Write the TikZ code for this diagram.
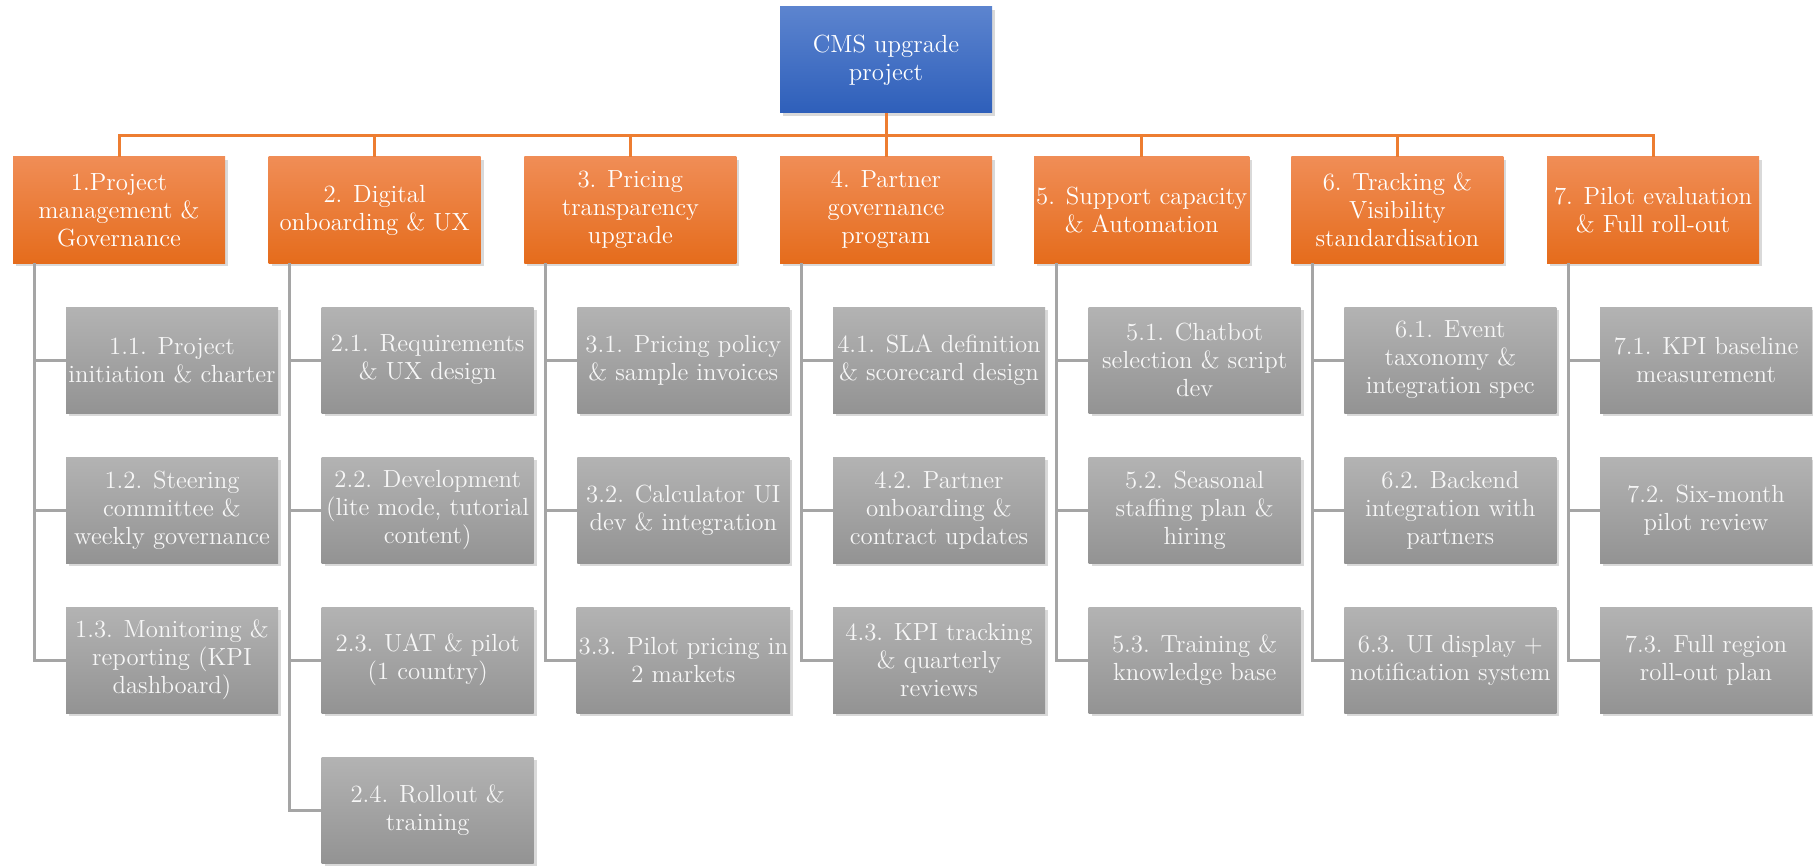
\documentclass[tikz,border=0pt]{standalone}
\usepackage{xcolor}
\usetikzlibrary{shadows}
\definecolor{rootTop}{RGB}{92,132,207}
\definecolor{rootBot}{RGB}{46,95,186}
\definecolor{phaseTop}{RGB}{240,141,86}
\definecolor{phaseBot}{RGB}{229,108,28}
\definecolor{taskTop}{RGB}{179,179,179}
\definecolor{taskBot}{RGB}{147,147,147}
\definecolor{lineOrange}{RGB}{237,125,49}
\definecolor{lineGray}{RGB}{165,165,165}

\begin{document}
\begin{tikzpicture}[x=0.5pt, y=-0.5pt,
      box/.style={minimum width=106pt, minimum height=53pt, inner sep=1pt,
        align=center, text=white, font=\fontsize{12.4}{14}\selectfont,
        drop shadow={shadow xshift=1.5pt, shadow yshift=-1.5pt, opacity=0.3}},
      rootbox/.style={box, top color=rootTop, bottom color=rootBot},
      phase/.style={box, top color=phaseTop, bottom color=phaseBot},
      task/.style={box, top color=taskTop, bottom color=taskBot, text=white!94!gray},
      oline/.style={draw=lineOrange, line width=1.5pt},
      gline/.style={draw=lineGray, line width=1.5pt}]
    \useasboundingbox (0,0) rectangle (1813,866);
    % root of the breakdown
    \node[rootbox] (root) at (886, 60) {CMS upgrade\\project};
    % work packages
    \foreach \i/\txt in {1/{1.Project\\management \&\\Governance},
        2/{2. Digital\\onboarding \& UX},
        3/{3. Pricing\\transparency\\upgrade},
        4/{4. Partner\\governance\\program},
        5/{5. Support capacity\\\& Automation},
        6/{6. Tracking \&\\Visibility\\standardisation},
        7/{7. Pilot evaluation\\\& Full roll-out}} {
      \node[phase] (p\i) at ({119+255.67*(\i-1)}, 210) {\txt};
      \draw[oline] (root.south) -- ++(0,22) -| (p\i.north);
    }
    % tasks under each package
    \foreach \i/\j/\txt in {1/1/{1.1. Project\\initiation \& charter},
        1/2/{1.2. Steering\\committee \&\\weekly governance},
        1/3/{1.3. Monitoring \&\\reporting (KPI\\dashboard)},
        2/1/{2.1. Requirements\\\& UX design},
        2/2/{2.2. Development\\(lite mode, tutorial\\content)},
        2/3/{2.3. UAT \& pilot\\(1 country)},
        2/4/{2.4. Rollout \&\\training},
        3/1/{3.1. Pricing policy\\\& sample invoices},
        3/2/{3.2. Calculator UI\\dev \& integration},
        3/3/{3.3. Pilot pricing in\\2 markets},
        4/1/{4.1. SLA definition\\\& scorecard design},
        4/2/{4.2. Partner\\onboarding \&\\contract updates},
        4/3/{4.3. KPI tracking\\\& quarterly\\reviews},
        5/1/{5.1. Chatbot\\selection \& script\\dev},
        5/2/{5.2. Seasonal\\staffing plan \&\\hiring},
        5/3/{5.3. Training \&\\knowledge base},
        6/1/{6.1. Event\\taxonomy \&\\integration spec},
        6/2/{6.2. Backend\\integration with\\partners},
        6/3/{6.3. UI display +\\notification system},
        7/1/{7.1. KPI baseline\\measurement},
        7/2/{7.2. Six-month\\pilot review},
        7/3/{7.3. Full region\\roll-out plan}} {
      \node[task] (t\i\j) at ({172+255.67*(\i-1)}, {360+150*(\j-1)}) {\txt};
      \draw[gline] ([xshift=-42.5pt]p\i.south) |- (t\i\j.west);
    }
  \end{tikzpicture}
\end{document}
